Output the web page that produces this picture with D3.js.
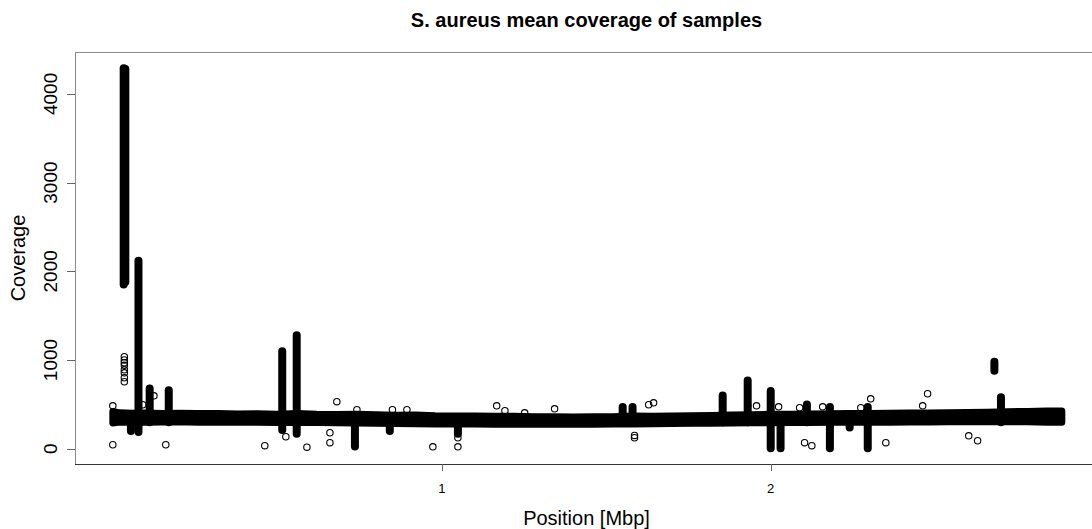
<!DOCTYPE html>
<html>
<head>
<meta charset="utf-8">
<script src="https://cdn.jsdelivr.net/npm/d3@7"></script>
<style>
    body { margin: 0; background: #fff; }
    text { font-family: "Liberation Sans", Arial, Helvetica, sans-serif; fill: #000; }
</style>
</head>
<body>
<div id="chart"></div>
<script>
// main band of mean coverage (envelope of the dense point cloud), Mbp / coverage
const bandPos  = [0.00, 0.02, 0.06, 0.10, 0.15, 0.20, 0.26, 0.32, 0.38, 0.44,
                  0.50, 0.56, 0.62, 0.68, 0.74, 0.80, 0.86, 0.92, 0.98, 1.04,
                  1.10, 1.16, 1.22, 1.28, 1.34, 1.40, 1.46, 1.52, 1.58, 1.64,
                  1.70, 1.76, 1.82, 1.88, 1.94, 2.00, 2.06, 2.12, 2.18, 2.24,
                  2.30, 2.36, 2.42, 2.48, 2.54, 2.60, 2.66, 2.72, 2.78, 2.84, 2.885];
const bandHigh = [420, 405, 400, 402, 398, 400, 396, 398, 392, 395,
                  390, 396, 388, 385, 390, 382, 378, 380, 372, 370,
                  368, 365, 366, 362, 360, 358, 360, 362, 368, 366,
                  370, 372, 376, 380, 384, 388, 390, 392, 394, 396,
                  398, 400, 402, 404, 405, 408, 412, 418, 420, 425, 425];
const bandLow  = [290, 300, 298, 300, 302, 305, 300, 302, 298, 300,
                  296, 298, 295, 292, 290, 288, 285, 282, 280, 278,
                  278, 276, 275, 276, 276, 275, 276, 278, 280, 282,
                  284, 286, 288, 290, 292, 294, 295, 296, 298, 300,
                  300, 300, 302, 302, 303, 303, 304, 305, 305, 300, 300];

// runs of stacked points (peaks and drops)
const spikePos  = [0.033, 0.038, 0.055, 0.078, 0.112, 0.170, 0.515, 0.559, 0.736, 0.842,
                   1.049, 1.550, 1.580, 1.854, 1.930, 2.000, 2.030, 2.110, 2.180, 2.240,
                   2.295, 2.680, 2.700];
const spikeLow  = [1850, 1880, 200, 190, 300, 300, 210, 170, 25, 200,
                   170, 300, 300, 300, 300, 5, 5, 300, 5, 240,
                   5, 880, 300];
const spikeHigh = [4290, 4280, 350, 2120, 680, 660, 1100, 1280, 330, 330,
                   330, 470, 470, 600, 770, 650, 320, 500, 470, 330,
                   470, 980, 580];

// isolated points
const outPos = [0.000, 0.000, 0.035, 0.035, 0.035, 0.035, 0.035, 0.035, 0.035, 0.035,
                0.091, 0.125, 0.161, 0.462, 0.526, 0.590, 0.660, 0.660, 0.681, 0.742,
                0.850, 0.894, 0.973, 1.049, 1.049, 1.167, 1.192, 1.252, 1.343, 1.586,
                1.586, 1.629, 1.644, 1.930, 1.957, 2.024, 2.088, 2.103, 2.125, 2.158,
                2.274, 2.304, 2.350, 2.462, 2.477, 2.602, 2.629];
const outCov = [45, 484, 755, 800, 856, 890, 940, 969, 1000, 1037,
                496, 597, 45, 34, 135, 18, 68, 180, 530, 440,
                440, 440, 22, 124, 22, 484, 428, 405, 450, 150,
                124, 496, 518, 484, 484, 473, 462, 68, 34, 473,
                462, 563, 68, 484, 620, 146, 90];

const xTicks = [1, 2];
const yTicks = [0, 1000, 2000, 3000, 4000];

const width = 1092, height = 529;
const plotLeft = 75, plotRight = 1098, plotTop = 52, plotBottom = 464;

const svg = d3.select("#chart")
    .append("svg")
    .attr("width", width)
    .attr("height", height);

const x = d3.scaleLinear().domain([-0.115, 2.995]).range([plotLeft, plotRight]);
const y = d3.scaleLinear().domain([-172, 4472]).range([plotBottom, plotTop]);

// plot box
svg.append("rect")
    .attr("x", plotLeft + 0.5)
    .attr("y", plotTop + 0.5)
    .attr("width", plotRight - plotLeft)
    .attr("height", plotBottom - plotTop)
    .attr("fill", "none")
    .attr("stroke", "#8a8a8a")
    .attr("stroke-width", 1);

const marks = svg.append("g");

// dense band
const area = d3.area()
    .x((d, i) => x(bandPos[i]))
    .y0((d, i) => y(bandLow[i]))
    .y1((d, i) => y(bandHigh[i]));

marks.append("path")
    .datum(bandPos)
    .attr("d", area)
    .attr("fill", "#000")
    .attr("stroke", "#000")
    .attr("stroke-width", 7)
    .attr("stroke-linejoin", "round");

// spikes
marks.selectAll(".spike")
    .data(spikePos)
    .enter()
    .append("line")
    .attr("class", "spike")
    .attr("x1", d => x(d))
    .attr("x2", d => x(d))
    .attr("y1", (d, i) => y(spikeLow[i]))
    .attr("y2", (d, i) => y(spikeHigh[i]))
    .attr("stroke", "#000")
    .attr("stroke-width", 8)
    .attr("stroke-linecap", "round");

// single points
marks.selectAll(".pt")
    .data(outPos)
    .enter()
    .append("circle")
    .attr("class", "pt")
    .attr("cx", d => x(d))
    .attr("cy", (d, i) => y(outCov[i]))
    .attr("r", 3.2)
    .attr("fill", "none")
    .attr("stroke", "#000")
    .attr("stroke-width", 1.1);

// x axis
const xAxis = svg.append("g");
xAxis.append("line")
    .attr("x1", plotLeft)
    .attr("x2", width)
    .attr("y1", plotBottom + 0.5)
    .attr("y2", plotBottom + 0.5)
    .attr("stroke", "#333");

xAxis.selectAll(".xt")
    .data(xTicks)
    .enter()
    .append("line")
    .attr("x1", d => Math.round(x(d)) + 0.5)
    .attr("x2", d => Math.round(x(d)) + 0.5)
    .attr("y1", plotBottom)
    .attr("y2", plotBottom + 7)
    .attr("stroke", "#666");

xAxis.selectAll(".xl")
    .data(xTicks)
    .enter()
    .append("text")
    .attr("x", d => x(d))
    .attr("y", 493)
    .attr("text-anchor", "middle")
    .style("font-size", "13px")
    .text(d => d);

// y axis
const yAxis = svg.append("g");
yAxis.selectAll(".yt")
    .data(yTicks)
    .enter()
    .append("line")
    .attr("x1", plotLeft - 8)
    .attr("x2", plotLeft)
    .attr("y1", d => Math.round(y(d)) + 0.5)
    .attr("y2", d => Math.round(y(d)) + 0.5)
    .attr("stroke", "#666");

yAxis.selectAll(".yl")
    .data(yTicks)
    .enter()
    .append("text")
    .attr("transform", d => `translate(57, ${y(d)}) rotate(-90)`)
    .attr("text-anchor", "middle")
    .style("font-size", "19px")
    .text(d => d);

// titles
svg.append("text")
    .attr("x", (plotLeft + plotRight) / 2)
    .attr("y", 27)
    .attr("text-anchor", "middle")
    .style("font-size", "20px")
    .style("font-weight", "bold")
    .text("S. aureus mean coverage of samples");

svg.append("text")
    .attr("x", (plotLeft + plotRight) / 2)
    .attr("y", 525)
    .attr("text-anchor", "middle")
    .style("font-size", "20px")
    .text("Position [Mbp]");

svg.append("text")
    .attr("transform", `translate(25, ${(plotTop + plotBottom) / 2}) rotate(-90)`)
    .attr("text-anchor", "middle")
    .style("font-size", "20px")
    .text("Coverage");
</script>
</body>
</html>
